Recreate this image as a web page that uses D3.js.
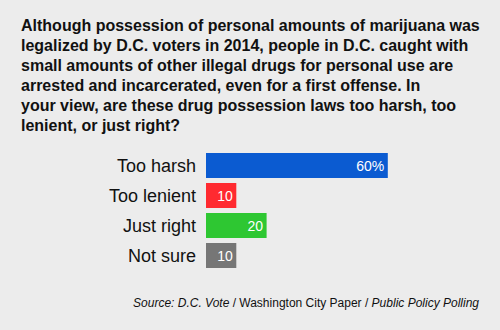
<!DOCTYPE html>
<html>
<head>
<meta charset="utf-8">
<script src="https://cdn.jsdelivr.net/npm/d3@7"></script>
<style>
  html, body { margin: 0; padding: 0; background: #ececec; }
  svg { display: block; font-family: "Liberation Sans", Arial, Helvetica, sans-serif; }
</style>
</head>
<body>
<svg id="chart" width="500" height="330"></svg>
<script>
const titleLines = [
  "Although possession of personal amounts of marijuana was",
  "legalized by D.C. voters in 2014, people in D.C. caught with",
  "small amounts of other illegal drugs for personal use are",
  "arrested and incarcerated, even for a first offense. In",
  "your view, are these drug possession laws too harsh, too",
  "lenient, or just right?"
];
const categories = ["Too harsh", "Too lenient", "Just right", "Not sure"];
const values = [60, 10, 20, 10];
const valueLabels = ["60%", "10", "20", "10"];
const colors = ["#0b5bd1", "#ff2a30", "#2ec732", "#767676"];

const svg = d3.select("#chart");
svg.append("rect").attr("width", 500).attr("height", 330).attr("fill", "#ececec");

// Question text
const title = svg.append("text")
  .attr("x", 21).attr("y", 31)
  .attr("font-size", 16).attr("font-weight", "bold").attr("fill", "#111");
titleLines.forEach((line, i) => {
  title.append("tspan").attr("x", 21).attr("dy", i === 0 ? 0 : 20).text(line);
});

const x = d3.scaleLinear().domain([0, 100]).range([206, 509]);
// Bands 30px apart, bars 25px tall
const y = d3.scaleBand().domain(categories)
  .range([153, 153 + 30 * categories.length - 5])
  .paddingInner(5 / 30).paddingOuter(0);

const rows = svg.append("g").selectAll("g").data(categories).join("g");

rows.append("rect")
  .attr("x", x(0))
  .attr("y", d => y(d))
  .attr("width", (d, i) => x(values[i]) - x(0))
  .attr("height", y.bandwidth())
  .attr("fill", (d, i) => colors[i]);

rows.append("text")
  .attr("x", x(0) - 10)
  .attr("y", d => y(d) + y.bandwidth() / 2)
  .attr("dy", "0.35em")
  .attr("text-anchor", "end")
  .attr("font-size", 18)
  .attr("fill", "#111")
  .text(d => d);

rows.append("text")
  .attr("x", (d, i) => x(values[i]) - 3.5)
  .attr("y", d => y(d) + y.bandwidth() / 2)
  .attr("dy", "0.37em")
  .attr("text-anchor", "end")
  .attr("font-size", 14)
  .attr("fill", "#fff")
  .text((d, i) => valueLabels[i]);

// Source line
const src = svg.append("text")
  .attr("x", 479).attr("y", 307)
  .attr("text-anchor", "end")
  .attr("font-size", 12)
  .attr("fill", "#111");
src.append("tspan").attr("font-style", "italic").text("Source: D.C. Vote");
src.append("tspan").text(" / Washington City Paper / ");
src.append("tspan").attr("font-style", "italic").text("Public Policy Polling");
</script>
</body>
</html>
